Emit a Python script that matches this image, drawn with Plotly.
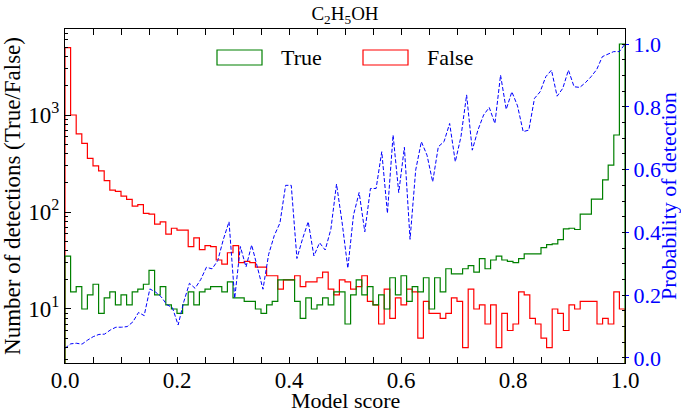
import numpy as np
import plotly.graph_objects as go

# 100 equal-width score bins on [0, 1]
bin_edges = np.linspace(0.0, 1.0, 101)

true_counts = [
    35, 15, 17, 10, 14, 18, 9, 13, 15, 11,
    14, 11, 15, 16, 18, 25, 14, 17, 11, 10,
    9, 11, 15, 11, 15, 16, 17, 17, 15, 19,
    13, 13, 12, 12, 10, 9, 11, 12, 20, 20,
    20, 12, 8, 13, 10, 11, 13, 11, 15, 15,
    7, 14, 20, 14, 17, 11, 14, 10, 21, 14,
    22, 12, 17, 15, 21, 10, 21, 15, 26, 23,
    23, 26, 28, 24, 33, 26, 32, 35, 32, 31,
    30, 33, 37, 37, 37, 43, 46, 47, 52, 67,
    68, 66, 95, 95, 136, 136, 214, 305, 622, 5400,
]

false_counts = [
    4950, 1000, 640, 510, 358, 299, 265, 211, 168, 163,
    146, 135, 115, 119, 97, 95, 75, 79, 59, 68,
    65, 65, 44, 54, 41, 45, 44, 32, 29, 38,
    45, 30, 31, 30, 27, 27, 22, 22, 16, 20,
    20, 22, 17, 19, 19, 21, 24, 16, 14, 20,
    19, 16, 17, 22, 12, 11, 7, 16, 8, 13,
    11, 16, 15, 5, 12, 9, 9, 8, 9, 13,
    12, 4, 16, 10, 11, 7, 11, 4, 9, 6,
    7, 15, 14, 8, 7, 5, 4, 10, 9, 6,
    11, 10, 12, 12, 12, 7, 8, 7, 15, 10,
]

detection_prob = [
    0.031, 0.045, 0.047, 0.044, 0.057, 0.068, 0.075, 0.076, 0.089, 0.098,
    0.098, 0.100, 0.115, 0.145, 0.135, 0.220, 0.210, 0.195, 0.170, 0.160,
    0.105, 0.179, 0.238, 0.222, 0.250, 0.289, 0.284, 0.310, 0.378, 0.434,
    0.190, 0.355, 0.290, 0.360, 0.290, 0.219, 0.330, 0.390, 0.430, 0.550,
    0.550, 0.317, 0.380, 0.434, 0.325, 0.367, 0.344, 0.410, 0.554, 0.430,
    0.286, 0.455, 0.527, 0.402, 0.540, 0.540, 0.657, 0.461, 0.710, 0.527,
    0.671, 0.378, 0.599, 0.689, 0.646, 0.561, 0.673, 0.689, 0.747, 0.625,
    0.705, 0.838, 0.662, 0.726, 0.774, 0.798, 0.747, 0.901, 0.792, 0.848,
    0.803, 0.721, 0.726, 0.827, 0.848, 0.896, 0.917, 0.834, 0.859, 0.917,
    0.864, 0.862, 0.877, 0.896, 0.919, 0.960, 0.968, 0.976, 0.976, 1.000,
]
prob_x = np.linspace(0.0, 1.0, len(detection_prob))

log_ticks = [10, 100, 1000]
log_tick_text = ["10<sup>1</sup>", "10<sup>2</sup>", "10<sup>3</sup>"]

SERIF = "Liberation Serif"
BLUE = "#0000ff"
BASELINE = 1  # below the visible log range, so the step outline drops off the bottom


def step_outline(edges, counts):
    """Outline of a step histogram (drawn with line_shape='hv')."""
    xs = [edges[0]] + list(edges[:-1]) + [edges[-1]]
    ys = [BASELINE] + list(counts) + [BASELINE]
    return xs, ys


fig = go.Figure()

fx, fy = step_outline(bin_edges, false_counts)
fig.add_trace(go.Scatter(x=fx, y=fy, mode="lines", line=dict(color="#ff0000", width=1.2, shape="hv"),
                         name="False", showlegend=False, yaxis="y"))
tx, ty = step_outline(bin_edges, true_counts)
fig.add_trace(go.Scatter(x=tx, y=ty, mode="lines", line=dict(color="#008000", width=1.2, shape="hv"),
                         name="True", showlegend=False, yaxis="y"))
fig.add_trace(go.Scatter(x=prob_x, y=detection_prob, mode="lines",
                         line=dict(color=BLUE, width=1, dash="4px,2px"),
                         name="Probability of detection", showlegend=False, yaxis="y2"))

W, H = 681, 412
L, R, T, B = 65, 56, 29, 49
PLOT_W, PLOT_H = W - L - R, H - T - B


def px_to_paper_x(px):
    return (px - L) / PLOT_W


def px_to_paper_y(py):
    return (H - B - py) / PLOT_H


fig.update_layout(
    width=W, height=H,
    margin=dict(l=L, r=R, t=T, b=B, autoexpand=False),
    paper_bgcolor="white", plot_bgcolor="white",
    font=dict(family=SERIF, size=22, color="black"),
    title=dict(text="C<sub>2</sub>H<sub>5</sub>OH", x=0.5, xref="paper", xanchor="center",
               y=1 - 13 / H, yref="container", yanchor="middle",
               font=dict(family=SERIF, size=19, color="black")),
    xaxis=dict(
        range=[0, 1], dtick=0.2, tickformat=".1f", automargin=False,
        showline=True, linecolor="black", linewidth=1.3, mirror="allticks",
        ticks="inside", ticklen=6, tickcolor="black",
        minor=dict(ticks="inside", dtick=0.05, ticklen=3, tickcolor="black"),
        showgrid=False, zeroline=False, ticklabelstandoff=-4,
        tickfont=dict(size=23),
    ),
    yaxis=dict(
        type="log", range=[0.443, 3.887], automargin=False,
        tickvals=log_ticks, ticktext=log_tick_text,
        showline=True, linecolor="black", linewidth=1.3,
        ticks="inside", ticklen=6, tickcolor="black",
        minor=dict(ticks="inside", ticklen=3, tickcolor="black", dtick="D1"),
        showgrid=False, zeroline=False,
        title=dict(text="Number of detections (True/False)", standoff=6, font=dict(size=23)),
        tickfont=dict(size=23),
    ),
    yaxis2=dict(
        overlaying="y", side="right", range=[-0.016, 1.048], automargin=False,
        dtick=0.2, tickformat=".1f",
        showline=True, linecolor="black", linewidth=1.3,
        ticks="outside", ticklen=3, tickcolor=BLUE,
        minor=dict(ticks="inside", dtick=0.05, ticklen=3, tickcolor="black"),
        showgrid=False, zeroline=False,
        tickfont=dict(size=22, color=BLUE),
    ),
)

# axis titles placed just outside the tick labels
fig.add_annotation(text="Model score", xref="paper", yref="paper",
                   x=0.5, y=px_to_paper_y(400),
                   xanchor="center", yanchor="middle", showarrow=False,
                   font=dict(family=SERIF, size=22, color="black"))
fig.add_annotation(text="Probability of detection", xref="paper", yref="paper",
                   x=px_to_paper_x(668), y=0.5, textangle=-90,
                   xanchor="center", yanchor="middle", showarrow=False,
                   font=dict(family=SERIF, size=22, color=BLUE))

# Legend: outlined swatches with labels inside the top of the axes
legend_items = [("True", "#008000", 217), ("False", "#ff0000", 363)]
for label, color, left_px in legend_items:
    fig.add_shape(type="rect", xref="paper", yref="paper",
                  x0=px_to_paper_x(left_px), x1=px_to_paper_x(left_px + 45),
                  y0=px_to_paper_y(65), y1=px_to_paper_y(50),
                  line=dict(color=color, width=1.2), fillcolor="white")
    fig.add_annotation(text=label, xref="paper", yref="paper",
                       x=px_to_paper_x(left_px + 62), y=px_to_paper_y(57.5),
                       xanchor="left", yanchor="middle", showarrow=False,
                       font=dict(family=SERIF, size=22, color="black"))

fig.write_html("out.html")
